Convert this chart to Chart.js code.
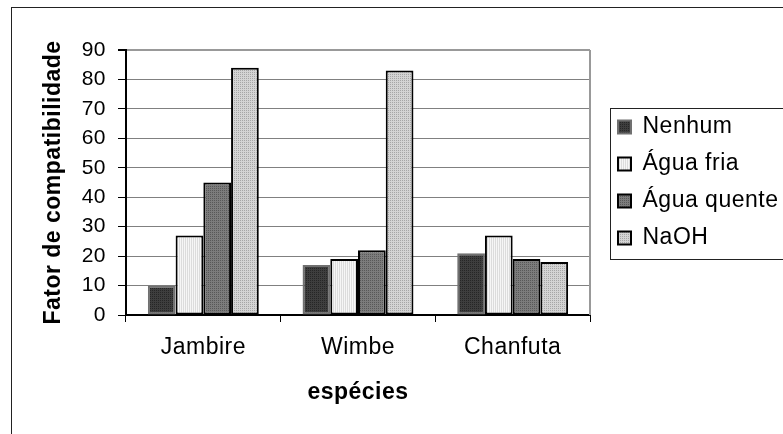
<!DOCTYPE html>
<html>
<head>
<meta charset="utf-8">
<title>Fator de compatibilidade</title>
<script src="https://cdn.jsdelivr.net/npm/chart.js@4/dist/chart.umd.min.js"></script>
<style>
  html, body { margin: 0; padding: 0; background: #fff; }
  #wrap { width: 783px; height: 434px; position: relative; }
</style>
</head>
<body>
<div id="wrap"><canvas id="chart"></canvas></div>
<script>
// Chart data
const especies = ['Jambire', 'Wimbe', 'Chanfuta'];
const nenhum = [10, 17, 21];
const aguaFria = [27, 19, 27];
const aguaQuente = [45, 22, 19];
const naoh = [84, 83, 18];
const yMin = 0, yMax = 90, yStep = 10;

const FONT = '"Liberation Sans", Arial, Helvetica, sans-serif';
Chart.defaults.font.family = FONT;
Chart.defaults.color = '#000';

// Small dotted / striped fills like the old office chart patterns
function makePattern(base, dot, kind) {
    const c = document.createElement('canvas');
    c.width = 4; c.height = 4;
    const g = c.getContext('2d');
    g.fillStyle = base;
    g.fillRect(0, 0, 4, 4);
    g.fillStyle = dot;
    if (kind === 'stripes') {
        g.fillRect(1, 0, 1, 4);
        g.fillRect(3, 0, 1, 4);
    } else {
        g.fillRect(0, 0, 1, 1);
        g.fillRect(2, 2, 1, 1);
        g.fillRect(2, 0, 1, 1);
        g.fillRect(0, 2, 1, 1);
    }
    return g.createPattern(c, 'repeat');
}

const fills = {
    nenhum: makePattern('#3e3e3e', '#262626', 'dots'),
    fria: makePattern('#f6f6f6', '#dcdcdc', 'stripes'),
    quente: makePattern('#7c7c7c', '#585858', 'dots'),
    naoh: makePattern('#d4d4d4', '#a6a6a6', 'dots')
};

// slightly wider text, set before layout so measurements include it
const spacing = {
    id: 'spacing',
    beforeUpdate(chart) { chart.ctx.letterSpacing = '0.5px'; },
    beforeDraw(chart) { chart.ctx.letterSpacing = '0.5px'; }
};

// Outer frame, plot frame and legend frame
const frames = {
    id: 'frames',
    beforeDraw(chart) {
        const ctx = chart.ctx;
        ctx.save();
        ctx.fillStyle = '#fff';
        ctx.fillRect(0, 0, chart.width, chart.height);
        ctx.strokeStyle = '#222';
        ctx.lineWidth = 1;
        ctx.strokeRect(11.5, 7.5, chart.width + 20, chart.height + 20);
        ctx.restore();
    },
    afterDraw(chart) {
        const ctx = chart.ctx;
        const a = chart.chartArea;
        ctx.save();
        ctx.strokeStyle = '#999';
        ctx.lineWidth = 2;
        ctx.beginPath();
        ctx.moveTo(Math.round(a.right), a.top);
        ctx.lineTo(Math.round(a.right), a.bottom);
        ctx.stroke();

        const hb = chart.legend.legendHitBoxes;
        if (hb && hb.length) {
            const first = hb[0], last = hb[hb.length - 1];
            const x = Math.round(first.left - 8) + 0.5;
            const y = Math.round(first.top - 8) + 0.5;
            const b = Math.round(last.top + last.height + 9) + 0.5;
            ctx.strokeStyle = '#222';
            ctx.lineWidth = 1;
            ctx.strokeRect(x, y, chart.width + 20 - x, b - y);
        }
        ctx.restore();
    }
};

new Chart(document.getElementById('chart'), {
    type: 'bar',
    data: {
        labels: especies,
        datasets: [
            { label: 'Nenhum', data: nenhum, backgroundColor: fills.nenhum, borderColor: '#707070', borderWidth: 2 },
            { label: 'Água fria', data: aguaFria, backgroundColor: fills.fria, borderColor: '#000', borderWidth: 2 },
            { label: 'Água quente', data: aguaQuente, backgroundColor: fills.quente, borderColor: '#000', borderWidth: 2 },
            { label: 'NaOH', data: naoh, backgroundColor: fills.naoh, borderColor: '#000', borderWidth: 2 }
        ]
    },
    options: {
        responsive: true,
        maintainAspectRatio: false,
        animation: false,
        layout: { padding: { top: 50, right: 0, bottom: 0, left: 0 } },
        datasets: {
            bar: { categoryPercentage: 0.717, barPercentage: 1, borderSkipped: false }
        },
        plugins: {
            tooltip: { enabled: false },
            legend: {
                position: 'right',
                align: 'center',
                fullSize: false,
                maxWidth: 179,
                labels: {
                    font: { size: 23 },
                    color: '#000',
                    boxWidth: 13,
                    boxHeight: 13,
                    padding: 14
                }
            }
        },
        scales: {
            x: {
                offset: true,
                grid: {
                    offset: true,
                    drawOnChartArea: false,
                    drawTicks: true,
                    tickLength: 7,
                    color: '#000',
                    lineWidth: 1
                },
                border: { display: true, color: '#000', width: 2 },
                ticks: { font: { size: 23 }, color: '#000', padding: 12 },
                title: {
                    display: true,
                    text: 'espécies',
                    font: { size: 23, weight: 'bold' },
                    color: '#000',
                    padding: { top: 0, bottom: 28 }
                },
                afterFit(scale) { scale.height = 119; }
            },
            y: {
                min: yMin,
                max: yMax,
                ticks: { stepSize: yStep, font: { size: 21 }, color: '#000', padding: 12 },
                grid: {
                    color: ctx => ctx.tick && ctx.tick.value === yMax ? '#999' : '#808080',
                    lineWidth: ctx => ctx.tick && ctx.tick.value === yMax ? 2 : 1,
                    tickColor: '#000',
                    tickLength: 8
                },
                border: { display: true, color: '#000', width: 2 },
                title: {
                    display: true,
                    text: 'Fator de compatibilidade',
                    font: { size: 23, weight: 'bold' },
                    color: '#000',
                    padding: { top: 40, bottom: 0 }
                },
                afterFit(scale) { scale.width = 126; }
            },
            // empty spacer between the plot and the legend
            gap: {
                type: 'linear',
                position: 'right',
                display: true,
                grid: { display: false },
                border: { display: false },
                ticks: { display: false },
                afterFit(scale) { scale.width = 14; }
            }
        }
    },
    plugins: [spacing, frames]
});
</script>
</body>
</html>
